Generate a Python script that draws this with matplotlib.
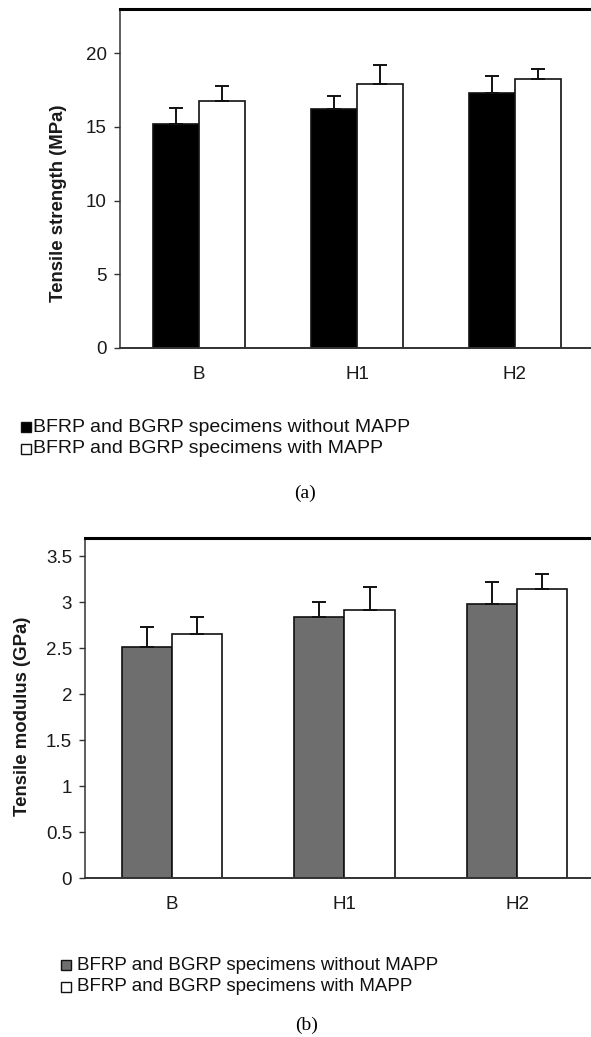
import matplotlib
matplotlib.use("Agg")
import matplotlib.pyplot as plt
from matplotlib.patches import Rectangle
import numpy as np

plt.rcParams['font.family'] = ['Liberation Sans', 'DejaVu Sans']

categories = ["B", "H1", "H2"]
series_names = ["BFRP and BGRP specimens without MAPP",
                "BFRP and BGRP specimens with MAPP"]

# (a) Tensile strength (MPa)
strength_without = [15.17, 16.20, 17.33]
strength_without_err = [1.13, 0.88, 1.14]
strength_with = [16.77, 17.90, 18.24]
strength_with_err = [1.01, 1.29, 0.72]
strength_ticks = [0, 5, 10, 15, 20]

# (b) Tensile modulus (GPa)
modulus_without = [2.51, 2.84, 2.98]
modulus_without_err = [0.215, 0.163, 0.24]
modulus_with = [2.65, 2.91, 3.148]
modulus_with_err = [0.184, 0.253, 0.162]
modulus_ticks = [0, 0.5, 1, 1.5, 2, 2.5, 3, 3.5]
modulus_ticklabels = ["0", "0.5", "1", "1.5", "2", "2.5", "3", "3.5"]

W, H = 591, 1037
fig = plt.figure(figsize=(W / 100, H / 100), dpi=100)


def px_axes(left, top, right, bottom):
    return fig.add_axes([left / W, 1 - bottom / H, (right - left) / W, (bottom - top) / H])


def draw_panel(ax, v0, e0, v1, e1, dark_color, ylim, ticks, ticklabels, ylabel, xlim_right):
    x = np.arange(len(categories))
    w = 0.29
    ax.bar(x - w / 2, v0, w, color=dark_color, edgecolor='#111111', linewidth=1.2, zorder=2)
    ax.bar(x + w / 2, v1, w, color='white', edgecolor='#111111', linewidth=1.2, zorder=2)
    ekw = dict(fmt='none', ecolor='#111111', elinewidth=1.4, capsize=5, capthick=1.4, zorder=3)
    ax.errorbar(x - w / 2, v0, yerr=[np.zeros(len(e0)), e0], **ekw)
    ax.errorbar(x + w / 2, v1, yerr=[np.zeros(len(e1)), e1], **ekw)
    ax.set_xlim(-0.5, xlim_right)
    ax.set_ylim(*ylim)
    ax.set_yticks(ticks)
    ax.set_yticklabels(ticklabels)
    ax.set_xticks(x)
    ax.set_xticklabels(categories)
    ax.tick_params(axis='x', length=0, pad=13, labelsize=13.5, labelcolor='#1a1a1a')
    ax.tick_params(axis='y', length=4.5, width=1.0, color='#333333', pad=5,
                   labelsize=13.5, labelcolor='#1a1a1a')
    ax.spines['right'].set_visible(False)
    ax.spines['top'].set_linewidth(2.2)
    ax.spines['top'].set_color('#000000')
    ax.spines['left'].set_linewidth(1.1)
    ax.spines['left'].set_color('#333333')
    ax.spines['bottom'].set_linewidth(1.4)
    ax.spines['bottom'].set_color('#333333')
    ax.set_ylabel(ylabel, fontsize=13.4, fontweight='bold', color='#1a1a1a')


def draw_legend(colors, x_box, x_text, ys, fs):
    for c, name, y in zip(colors, series_names, ys):
        s = 10
        fig.patches.append(Rectangle((x_box / W, 1 - (y + s / 2) / H), s / W, s / H,
                                     transform=fig.transFigure, facecolor=c,
                                     edgecolor='#111111', linewidth=1.0))
        fig.text(x_text / W, 1 - y / H, name, fontsize=fs, va='center', ha='left',
                 color='#111111')


# Panel (a)
a_left, a_right = 120, 594
ax1 = px_axes(a_left, 9, a_right, 348)
draw_panel(ax1, strength_without, strength_without_err, strength_with, strength_with_err,
           '#000000', (0, 23), strength_ticks, [str(t) for t in strength_ticks],
           "Tensile strength (MPa)", 2.5)
ax1.yaxis.set_label_coords((67 - a_left) / (a_right - a_left), 0.428)

draw_legend(['#000000', 'white'], 21, 33, [427, 448.5], 14.0)
fig.text(305 / W, 1 - 493 / H, "(a)", fontsize=14, ha='center', va='center',
         family=['Liberation Serif', 'DejaVu Serif'])

# Panel (b)
b_left, b_right = 85.2, 603.8
ax2 = px_axes(b_left, 537.7, b_right, 878.3)
draw_panel(ax2, modulus_without, modulus_without_err, modulus_with, modulus_with_err,
           '#6e6e6e', (0, 3.70), modulus_ticks, modulus_ticklabels,
           "Tensile modulus (GPa)", 2.5)
ax2.yaxis.set_label_coords((31 - b_left) / (b_right - b_left), 0.4765)

draw_legend(['#6e6e6e', 'white'], 61, 77, [965, 986.7], 13.5)
fig.text(307 / W, 1 - 1025 / H, "(b)", fontsize=14, ha='center', va='center',
         family=['Liberation Serif', 'DejaVu Serif'])

fig.savefig("out.png", dpi=100)
